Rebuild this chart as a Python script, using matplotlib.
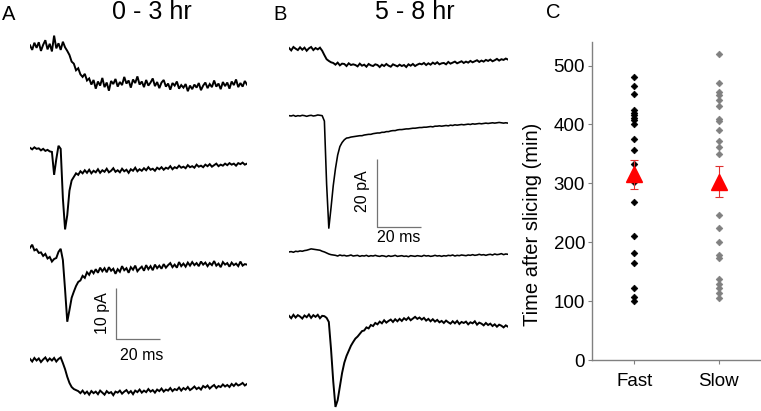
import numpy as np
import matplotlib
matplotlib.use("Agg")
import matplotlib.pyplot as plt

plt.rcParams['font.family'] = ['Liberation Sans', 'DejaVu Sans']

# ---------------- data ----------------
time_ms = np.arange(100)  # 1 ms sampling grid

# Panel A (0 - 3 hr) traces, pA relative to initial baseline
a1 = [0.3,-0.6,0.8,-0.2,0.9,-0.8,0.4,1.3,-0.5,0.6,
      -0.9,2.2,-0.3,0.7,-0.6,1.0,-0.1,-0.8,-1.6,-2.9,
      -3.3,-4.6,-4.2,-5.4,-5.9,-5.3,-6.6,-6.2,-7.4,-6.5,
      -8.2,-6.8,-7.6,-6.1,-7.9,-7.0,-8.6,-6.7,-7.3,-6.3,
      -7.8,-6.9,-7.5,-5.9,-7.2,-6.6,-8.0,-6.4,-7.1,-5.8,
      -7.4,-6.8,-7.9,-6.5,-7.6,-7.0,-6.2,-7.7,-6.9,-8.1,
      -7.0,-6.5,-7.8,-7.2,-8.4,-7.1,-7.6,-6.8,-8.2,-7.5,
      -8.0,-7.3,-8.7,-7.6,-8.3,-7.4,-8.0,-7.1,-8.5,-7.6,
      -7.0,-8.1,-7.3,-7.9,-6.6,-7.8,-7.2,-8.3,-6.9,-7.7,
      -7.0,-8.2,-6.8,-7.5,-6.4,-7.9,-7.1,-7.8,-6.7,-7.4]
a2 = [0.4,0.1,0.5,0.2,0.3,-0.1,0.2,-0.2,0.0,-0.3,
      -0.4,-4.9,-1.8,0.8,0.2,-9.5,-15.6,-12.8,-8.0,-6.0,
      -5.3,-4.6,-4.9,-4.2,-4.6,-4.0,-4.5,-3.9,-4.6,-4.1,
      -4.4,-3.8,-4.5,-4.0,-4.3,-3.7,-4.4,-4.1,-3.6,-4.3,
      -4.0,-4.4,-3.7,-4.2,-3.9,-4.5,-3.8,-4.1,-3.5,-4.2,
      -3.8,-4.1,-3.6,-4.0,-3.4,-3.9,-3.7,-4.1,-3.5,-3.8,
      -3.4,-3.9,-3.5,-3.7,-3.2,-3.8,-3.4,-3.6,-3.1,-3.5,
      -3.3,-3.6,-3.0,-3.4,-3.2,-3.5,-2.9,-3.3,-3.1,-3.4,
      -2.9,-3.2,-2.8,-3.3,-3.0,-2.7,-3.2,-2.9,-3.1,-2.7,
      -3.0,-2.6,-2.9,-2.7,-3.1,-2.6,-2.8,-2.5,-2.9,-2.7]
a3 = [0.0,0.6,-0.5,-0.3,-1.0,-0.9,-1.6,-1.2,-2.1,-1.8,
      -2.7,-2.2,-2.0,-0.8,-0.2,-2.4,-8.2,-14.5,-12.2,-9.8,
      -8.6,-7.5,-6.7,-6.4,-5.5,-5.9,-4.8,-5.3,-4.4,-5.0,
      -4.2,-4.9,-3.9,-4.6,-4.0,-4.8,-3.8,-4.5,-4.1,-5.1,
      -4.2,-4.7,-3.6,-4.4,-4.0,-4.9,-3.8,-4.3,-3.5,-4.6,
      -4.1,-3.7,-4.5,-3.4,-4.2,-3.6,-4.4,-3.3,-4.0,-3.5,
      -4.1,-3.2,-3.9,-3.4,-3.0,-3.8,-3.3,-3.9,-2.8,-3.6,
      -3.1,-3.7,-2.9,-3.5,-2.8,-3.4,-3.0,-3.6,-2.7,-3.3,
      -2.9,-3.6,-3.0,-3.4,-2.6,-3.5,-3.1,-3.8,-2.8,-3.3,
      -3.0,-3.7,-2.9,-3.4,-3.1,-3.6,-2.7,-3.5,-3.2,-3.3]
a4 = [0.2,-0.3,0.4,-0.1,0.3,-0.4,0.1,0.5,-0.2,0.3,
      -0.1,0.4,-0.3,0.2,0.5,-0.6,-1.8,-3.3,-4.5,-5.3,
      -5.7,-5.9,-6.1,-6.5,-6.0,-6.6,-6.2,-6.8,-6.1,-6.5,
      -6.2,-6.7,-6.0,-6.4,-6.8,-6.1,-6.5,-6.3,-6.9,-6.2,
      -6.4,-6.0,-6.6,-6.2,-5.9,-6.5,-6.1,-6.7,-6.0,-6.3,
      -5.8,-6.4,-6.0,-6.3,-5.7,-6.2,-5.9,-6.4,-5.8,-6.1,
      -5.6,-6.2,-5.8,-6.0,-5.5,-6.1,-5.7,-5.9,-5.4,-6.0,
      -5.5,-5.8,-5.3,-5.9,-5.6,-5.2,-5.7,-5.4,-5.8,-5.1,
      -5.4,-5.0,-5.6,-5.2,-4.9,-5.5,-5.1,-5.3,-4.8,-5.2,
      -4.9,-5.3,-4.7,-5.1,-4.6,-5.0,-4.8,-4.5,-5.0,-4.7]

# Panel B (5 - 8 hr) traces
b1 = [0.3,-0.4,0.6,0.1,-0.3,0.5,-0.2,0.4,-0.5,0.2,
      0.6,-0.3,0.3,-0.1,0.4,-0.5,-1.8,-3.0,-3.5,-3.9,
      -4.1,-4.6,-4.0,-4.8,-4.3,-4.4,-5.0,-4.2,-4.7,-4.5,
      -4.7,-5.1,-4.3,-4.9,-4.6,-5.2,-4.4,-4.8,-5.0,-4.5,
      -4.7,-5.3,-4.6,-5.0,-4.4,-4.9,-5.2,-4.5,-4.8,-5.1,
      -4.6,-5.0,-4.7,-5.3,-4.5,-4.9,-4.4,-5.0,-4.6,-4.3,
      -4.5,-4.1,-4.7,-4.2,-4.6,-4.0,-4.4,-3.9,-4.5,-4.2,
      -4.1,-4.5,-3.8,-4.3,-4.0,-3.7,-4.2,-3.9,-3.6,-4.1,
      -3.7,-4.0,-3.5,-3.9,-3.6,-3.3,-3.8,-3.4,-3.7,-3.2,
      -3.5,-3.1,-3.6,-3.3,-2.9,-3.4,-3.0,-3.2,-2.8,-3.1]
b2 = [0.1,0.0,0.2,-0.1,0.1,0.0,0.2,0.1,-0.1,0.1,
      0.2,0.0,0.1,0.3,0.2,0.1,-1.5,-20.0,-33.0,-27.0,
      -20.5,-15.5,-11.5,-9.0,-7.8,-7.0,-6.5,-6.4,-6.2,-6.1,
      -6.0,-5.9,-5.8,-5.8,-5.6,-5.5,-5.4,-5.4,-5.2,-5.1,
      -5.0,-5.0,-4.8,-4.8,-4.6,-4.6,-4.4,-4.3,-4.3,-4.1,
      -4.0,-4.0,-3.9,-3.8,-3.8,-3.7,-3.6,-3.6,-3.5,-3.4,
      -3.4,-3.3,-3.3,-3.2,-3.1,-3.2,-3.0,-3.0,-2.9,-3.0,
      -2.9,-2.8,-2.9,-2.7,-2.8,-2.6,-2.7,-2.6,-2.5,-2.6,
      -2.5,-2.4,-2.5,-2.3,-2.4,-2.3,-2.2,-2.3,-2.2,-2.1,
      -2.2,-2.1,-2.0,-2.1,-2.0,-1.9,-2.0,-2.1,-2.0,-2.1]
b3 = [0.0,0.1,-0.1,0.2,0.1,0.3,0.2,0.4,0.5,0.7,
      0.9,0.8,0.7,0.6,0.5,0.2,0.0,-0.3,-0.6,-0.8,
      -0.9,-1.0,-1.2,-0.9,-1.1,-1.0,-1.2,-1.1,-0.9,-1.2,
      -1.1,-1.0,-1.3,-1.1,-1.2,-1.0,-1.3,-1.1,-1.2,-1.0,
      -1.2,-1.3,-1.1,-1.2,-1.4,-1.1,-1.3,-1.2,-1.0,-1.3,
      -1.2,-1.1,-1.3,-1.2,-1.4,-1.1,-1.2,-1.3,-1.1,-1.2,
      -1.3,-1.0,-1.2,-1.1,-1.3,-1.2,-1.0,-1.2,-1.1,-1.3,
      -1.1,-1.2,-1.0,-1.1,-0.9,-1.2,-1.0,-1.1,-0.9,-1.0,
      -1.1,-0.9,-1.0,-0.8,-1.0,-0.9,-0.7,-0.9,-0.8,-1.0,
      -0.8,-0.7,-0.9,-0.6,-0.8,-0.7,-0.5,-0.8,-0.6,-0.7]
b4 = [0.3,-0.4,0.6,-0.2,0.5,0.1,-0.5,0.4,-0.1,0.7,
      -0.3,0.5,0.0,0.6,-0.4,0.3,0.2,-0.3,-1.5,-9.5,
      -19.0,-26.5,-24.5,-20.5,-16.5,-13.5,-11.5,-10.0,-8.5,-7.4,
      -6.4,-5.8,-5.0,-4.2,-4.0,-3.1,-3.4,-2.4,-2.7,-1.8,
      -2.2,-1.4,-1.9,-1.0,-1.7,-1.2,-0.8,-1.5,-0.7,-1.3,
      -0.6,-1.2,-0.4,-0.9,-0.2,-1.0,-0.5,0.0,-0.6,-0.2,
      -0.8,-0.3,-1.1,-0.6,-1.3,-0.7,-1.4,-0.9,-1.6,-1.2,
      -1.8,-1.1,-1.6,-2.0,-1.3,-1.9,-1.2,-2.1,-1.5,-1.8,
      -1.4,-2.2,-1.6,-1.9,-1.3,-2.3,-1.7,-2.0,-2.5,-1.8,
      -2.4,-2.0,-2.7,-2.2,-2.9,-2.3,-2.6,-3.1,-2.5,-2.9]

# Panel C
groups = ["Fast", "Slow"]
fast_min = [481, 466, 451, 425, 420, 416, 411, 407, 400, 375, 356, 332,
            310, 302, 269, 210, 181, 165, 122, 107, 100]
slow_min = [520, 470, 455, 450, 441, 431, 410, 406, 390, 372, 361, 349,
            246, 224, 201, 178, 174, 137, 129, 122, 113, 106]
group_mean = [315, 303]
group_sem = [25, 26]
y_ticks = [0, 100, 200, 300, 400, 500]

# ---------------- layout ----------------
W, H = 761, 411
fig = plt.figure(figsize=(W / 100, H / 100), dpi=100)

def px_axes(x0, y0, x1, y1):
    return fig.add_axes([x0 / W, 1 - y1 / H, (x1 - x0) / W, (y1 - y0) / H])

noisy_kw = dict(color='black', lw=1.4, solid_joinstyle='miter')
clean_kw = dict(color='black', lw=1.15)
bar_kw = dict(color='0.45', lw=0.9, solid_capstyle='butt')

# Panel A
axA = px_axes(30, 30, 247, 411)
axA.set_xlim(0, 99)
axA.set_ylim(-74.7, 0)
axA.axis('off')
for vals, off in zip([a1, a2, a3, a4], [-3.3, -23.5, -42.7, -64.7]):
    axA.plot(time_ms, np.array(vals) + off, **noisy_kw)
axA.plot([39.3, 39.3, 59.3], [-50.6, -60.6, -60.6], **bar_kw)
axA.text(33.0, -55.6, "10 pA", rotation=90, ha='center', va='center', fontsize=11.5)
axA.text(51.0, -63.9, "20 ms", ha='center', va='center', fontsize=11.5)

# Panel B
axB = px_axes(289, 30, 508, 411)
axB.set_xlim(0, 99)
axB.set_ylim(-112.1, 0)
axB.axis('off')
for vals, off, kw in zip([b1, b2, b3, b4], [-5.6, -25.3, -65.3, -84.4],
                         [noisy_kw, clean_kw, clean_kw, noisy_kw]):
    axB.plot(time_ms, np.array(vals) + off, **kw)
axB.plot([39.8, 39.8, 59.8], [-37.9, -57.9, -57.9], **bar_kw)
axB.text(33.3, -47.3, "20 pA", rotation=90, ha='center', va='center', fontsize=11.5)
axB.text(49.5, -61.0, "20 ms", ha='center', va='center', fontsize=11.5)

# Titles and panel letters
fig.text(9 / W, 1 - 14 / H, "A", fontsize=14.5, ha='center', va='center')
fig.text(280 / W, 1 - 14 / H, "B", fontsize=14.5, ha='center', va='center')
fig.text(553 / W, 1 - 13 / H, "C", fontsize=14.5, ha='center', va='center')
fig.text(152 / W, 1 - 12 / H, "0 - 3 hr", fontsize=18, ha='center', va='center')
fig.text(415 / W, 1 - 12 / H, "5 - 8 hr", fontsize=18, ha='center', va='center')

# Panel C
axC = px_axes(592, 42, 761, 360)
xpos = np.arange(1, len(groups) + 1)
axC.plot(np.full(len(fast_min), xpos[0]), fast_min, 'D', color='black', ms=3.4, mew=0.5)
axC.plot(np.full(len(slow_min), xpos[1]), slow_min, 'D', color='#808080', ms=3.4, mew=0.5)
axC.errorbar(xpos, group_mean, yerr=group_sem, fmt='^', color='#ff0000', ms=12,
             ecolor='#e03030', elinewidth=0.8, capsize=3, capthick=0.8, zorder=5)
axC.set_xlim(0.5, 2.5)
axC.set_ylim(0, 540)
axC.set_yticks(y_ticks)
axC.set_xticks(xpos)
axC.set_xticklabels(groups)
for s in ['top', 'right']:
    axC.spines[s].set_visible(False)
for s in ['left', 'bottom']:
    axC.spines[s].set_color('#808080')
    axC.spines[s].set_linewidth(1.0)
axC.tick_params(axis='both', direction='out', length=3, color='#808080')
axC.tick_params(axis='y', labelsize=13.5, pad=2)
axC.tick_params(axis='x', labelsize=13.5, pad=6)
fig.text(532 / W, 1 - 224 / H, "Time after slicing (min)", rotation=90,
         ha='center', va='center', fontsize=14.5)

fig.savefig("out.png", dpi=100)
